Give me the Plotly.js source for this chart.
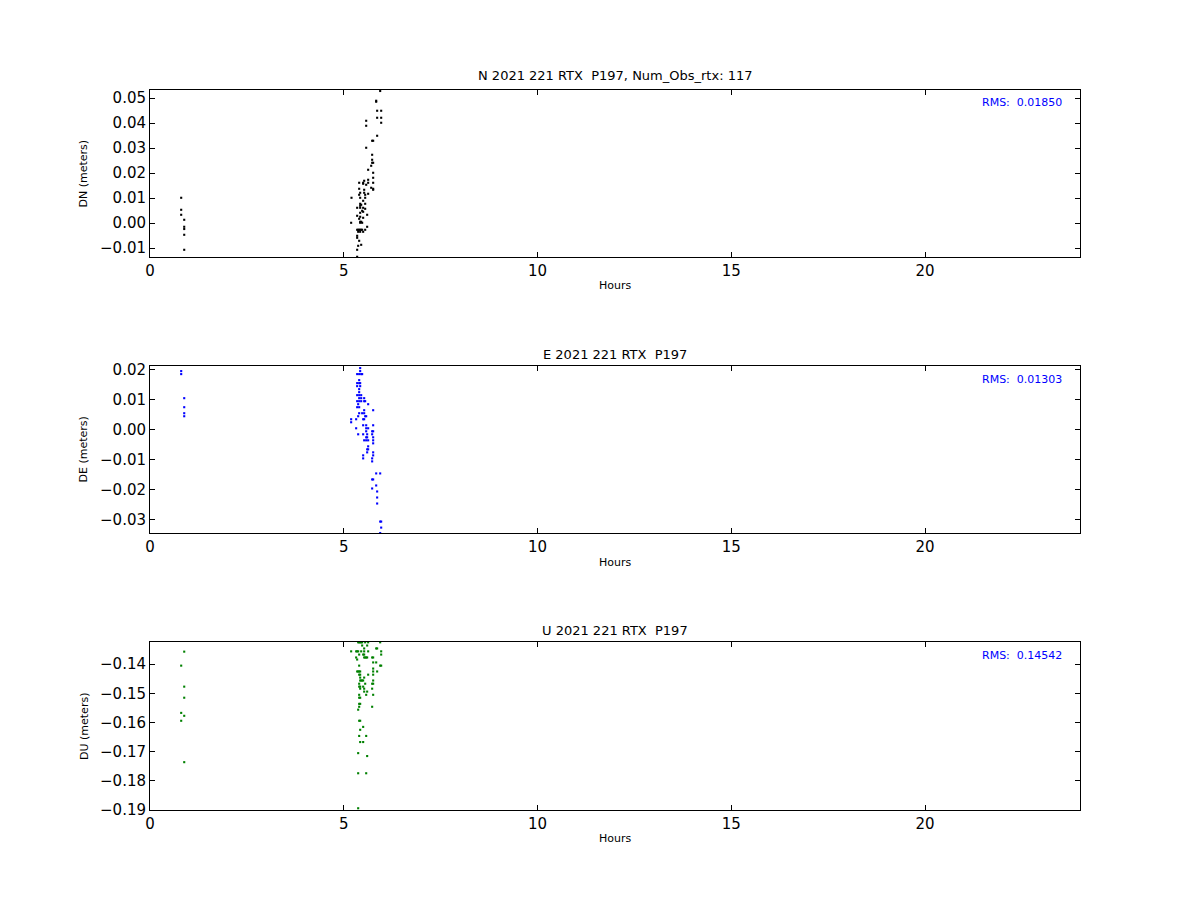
<!DOCTYPE html>
<html><head><meta charset="utf-8">
<script src="https://cdn.plot.ly/plotly-3.0.1.min.js"></script>
<style>body{margin:0;background:#fff}</style>
</head><body><div id="chart" style="width:1200px;height:900px"></div>
<script>
// N component (hours, meters)
const nHours = [0.805,0.805,0.805,0.883,0.883,0.883,0.883,0.883,
 5.940,5.837,5.837,5.862,5.966,5.862,5.966,5.579,5.966,5.579,5.862,5.733,5.759,5.579,5.733,5.733,5.733,5.759,5.708,5.630,5.759,5.759,
 5.630,5.527,5.501,5.630,5.579,5.398,5.759,5.501,5.708,5.759,5.759,5.398,5.527,5.424,5.527,5.630,5.398,5.553,5.200,5.424,5.553,
 5.501,5.424,5.553,5.450,5.424,5.346,5.424,5.501,5.553,5.475,5.424,5.501,5.604,5.346,5.424,5.501,5.398,5.424,5.450,5.191,5.424,5.475,
 5.604,5.346,5.372,5.398,5.424,5.450,5.475,5.553,5.372,5.424,5.501,5.346,5.346,5.398,5.372,5.450,5.346,5.346];
const nValues = [0.0101,0.0053,0.0033,0.0013,-0.0015,-0.0024,-0.0047,-0.0107,
 0.0528,0.0489,0.0485,0.0449,0.0449,0.0421,0.0421,0.0409,0.0401,0.0389,0.0349,0.0329,0.0329,0.0301,0.0273,0.0253,0.0241,0.0241,0.0229,0.0213,0.0201,0.0181,
 0.0173,0.0169,0.0161,0.0161,0.0153,0.0161,0.0161,0.0157,0.0141,0.0137,0.0133,0.0137,0.0133,0.0121,0.0121,0.0117,0.0113,0.0113,0.0101,0.0101,0.0101,
 0.0089,0.0077,0.0077,0.0073,0.0069,0.0061,0.0061,0.0061,0.0057,0.0049,0.0041,0.0045,0.0033,0.0029,0.0025,0.0021,0.0017,0.0005,0.0005,0.0001,0.0001,0.0001,
 -0.0015,-0.0027,-0.0027,-0.0027,-0.0027,-0.0027,-0.0027,-0.0027,-0.0035,-0.0035,-0.0035,-0.0051,-0.0059,-0.0071,-0.0091,-0.0087,-0.0107,-0.0135];

// E component
const eHours = [0.805,0.805,0.883,0.883,0.883,0.883,
 5.424,5.424,5.346,5.398,5.450,5.475,5.398,5.346,5.398,5.424,5.346,5.424,5.398,5.398,5.346,5.398,5.450,5.398,5.450,5.527,
 5.346,5.398,5.450,5.527,5.553,5.372,5.630,5.346,5.398,5.527,5.759,5.398,5.475,5.527,5.372,5.553,5.579,5.191,5.320,5.501,5.527,5.191,
 5.501,5.579,5.759,5.320,5.579,5.630,5.579,5.733,5.759,5.372,5.501,5.604,5.733,5.579,5.604,5.759,5.527,5.579,5.630,5.759,5.759,5.630,
 5.604,5.630,5.604,5.759,5.501,5.759,5.501,5.733,5.733,5.837,5.940,5.733,5.759,5.837,5.733,5.862,5.862,5.862,5.940,5.966,5.966,5.940];
const eValues = [0.0194,0.0184,0.0104,0.0074,0.0054,0.0044,
 0.0204,0.0194,0.0184,0.0184,0.0184,0.0184,0.0164,0.0154,0.0154,0.0154,0.0144,0.0144,0.0134,0.0124,0.0114,0.0114,0.0114,0.0104,0.0104,0.0104,
 0.0094,0.0094,0.0094,0.0094,0.0094,0.0084,0.0084,0.0074,0.0074,0.0064,0.0064,0.0054,0.0054,0.0054,0.0044,0.0044,0.0044,0.0034,0.0034,0.0034,0.0034,0.0024,
 0.0014,0.0014,0.0014,0.0004,0.0004,0.0004,-0.0006,-0.0006,-0.0006,-0.0016,-0.0016,-0.0016,-0.0016,-0.0026,-0.0026,-0.0026,-0.0036,-0.0036,-0.0036,-0.0036,-0.0046,-0.0056,
 -0.0066,-0.0066,-0.0076,-0.0076,-0.0086,-0.0086,-0.0096,-0.0096,-0.0106,-0.0146,-0.0146,-0.0166,-0.0166,-0.0186,-0.0196,-0.0206,-0.0226,-0.0246,-0.0306,-0.0306,-0.0326,-0.0344];

// U component
const uHours = [0.883,0.805,0.883,0.883,0.805,0.883,0.805,0.883,
 5.372,5.398,5.424,5.450,5.475,5.553,5.630,5.940,5.475,5.604,5.527,5.837,5.862,
 5.191,5.320,5.346,5.372,5.450,5.527,5.630,5.966,5.398,5.501,5.527,5.966,
 5.320,5.527,5.553,5.579,5.604,5.733,5.759,5.346,5.759,5.837,5.398,5.940,5.966,5.759,
 5.346,5.372,5.398,5.424,5.759,5.862,5.398,5.424,5.630,5.759,5.424,5.527,5.424,5.450,5.475,5.501,5.759,
 5.398,5.553,5.733,5.759,5.398,5.424,5.501,5.424,5.527,5.733,5.527,5.604,5.398,5.579,5.759,5.398,5.424,5.398,5.424,5.398,5.733,5.372,
 5.398,5.424,5.501,5.424,5.398,5.579,5.424,5.501,5.372,5.604,5.372,5.579,5.372];
const uValues = [-0.1357,-0.1405,-0.1477,-0.1515,-0.1567,-0.1577,-0.1594,-0.1736,
 -0.1325,-0.1325,-0.1325,-0.1325,-0.1325,-0.1325,-0.1325,-0.1325,-0.1336,-0.1336,-0.1346,-0.1346,-0.1346,
 -0.1356,-0.1356,-0.1356,-0.1356,-0.1356,-0.1356,-0.1356,-0.1356,-0.1367,-0.1367,-0.1367,-0.1367,
 -0.1377,-0.1377,-0.1377,-0.1377,-0.1377,-0.1377,-0.1377,-0.1384,-0.1394,-0.1394,-0.1405,-0.1405,-0.1405,-0.1415,
 -0.1425,-0.1425,-0.1425,-0.1425,-0.1425,-0.1425,-0.1436,-0.1436,-0.1436,-0.1436,-0.1446,-0.1446,-0.1456,-0.1456,-0.1456,-0.1456,-0.1456,
 -0.1467,-0.1467,-0.1467,-0.1467,-0.1477,-0.1477,-0.1477,-0.1484,-0.1484,-0.1484,-0.1494,-0.1494,-0.1505,-0.1505,-0.1505,-0.1515,-0.1515,-0.1536,-0.1536,-0.1546,-0.1546,-0.1556,
 -0.1594,-0.1594,-0.1615,-0.1625,-0.1646,-0.1646,-0.1667,-0.1667,-0.1705,-0.1715,-0.1774,-0.1774,-0.1894];

const titles = ['N 2021 221 RTX\u00a0\u00a0P197, Num_Obs_rtx: 117','E 2021 221 RTX\u00a0\u00a0P197','U 2021 221 RTX\u00a0\u00a0P197'];
const yLabels = ['DN (meters)','DE (meters)','DU (meters)'];
const rmsLabels = ['RMS:\u00a0\u00a00.01850','RMS:\u00a0\u00a00.01303','RMS:\u00a0\u00a00.14542'];
const xLabel = 'Hours';

const mk = (c) => ({symbol:'square', size:2.1, color:c, line:{width:0}});
const traces = [
  {x:nHours, y:nValues, type:'scatter', mode:'markers', marker:mk('#000000'), xaxis:'x', yaxis:'y', hoverinfo:'skip'},
  {x:eHours, y:eValues, type:'scatter', mode:'markers', marker:mk('#0000ff'), xaxis:'x2', yaxis:'y2', hoverinfo:'skip'},
  {x:uHours, y:uValues, type:'scatter', mode:'markers', marker:mk('#008000'), xaxis:'x3', yaxis:'y3', hoverinfo:'skip'}
];

const tickFont = {family:'DejaVu Sans', size:15, color:'#000'};
const xAx = (anchor) => ({range:[0,24], dtick:5, tick0:0, ticks:'inside', ticklen:5, tickwidth:1, tickcolor:'#000',
  showline:true, linecolor:'#000', linewidth:1, mirror:'ticks', showgrid:false, zeroline:false, tickfont:tickFont, anchor:anchor, domain:[0,1]});
const yAx = (anchor, range, dom) => ({range:range, dtick:0.01, tick0:0, tickformat:'.2f', ticks:'inside', ticklen:5, tickwidth:1, tickcolor:'#000',
  showline:true, linecolor:'#000', linewidth:1, mirror:'ticks', showgrid:false, zeroline:false, tickfont:tickFont, anchor:anchor, domain:dom});

const doms = [[0.768,1.0],[0.3847,0.6167],[0,0.2333]];
const titleY = [1.0208,0.6333,0.25];
const hoursY = [0.729,0.344,-0.039];
const rmsY = [0.983,0.5986,0.2139];
const ann = [];
for (let i=0;i<3;i++){
  ann.push({text:titles[i], xref:'paper', yref:'paper', x:0.5, y:titleY[i], showarrow:false, font:{family:'DejaVu Sans', size:13, color:'#000'}, xanchor:'center', yanchor:'middle'});
  ann.push({text:xLabel, xref:'paper', yref:'paper', x:0.4995, y:hoursY[i], showarrow:false, font:{family:'DejaVu Sans', size:11, color:'#000'}, xanchor:'center', yanchor:'middle'});
  ann.push({text:yLabels[i], xref:'paper', yref:'paper', x:-0.071, y:(doms[i][0]+doms[i][1])/2, textangle:-90, showarrow:false, font:{family:'DejaVu Sans', size:11, color:'#000'}, xanchor:'center', yanchor:'middle'});
  ann.push({text:rmsLabels[i], xref:'paper', yref:'paper', x:0.983, y:rmsY[i], showarrow:false, font:{family:'DejaVu Sans', size:11, color:'#0000ff'}, xanchor:'right', yanchor:'middle'});
}

const layout = {
  width:1200, height:900, margin:{l:150, r:120, t:90, b:90}, showlegend:false,
  paper_bgcolor:'#fff', plot_bgcolor:'#fff',
  xaxis:xAx('y'), yaxis:yAx('x',[-0.0136,0.0532],doms[0]),
  xaxis2:xAx('y2'), yaxis2:yAx('x2',[-0.0344,0.0211],doms[1]),
  xaxis3:xAx('y3'), yaxis3:yAx('x3',[-0.19,-0.1324],doms[2]),
  annotations:ann
};
Plotly.newPlot('chart', traces, layout, {displayModeBar:false, staticPlot:true});
</script></body></html>
